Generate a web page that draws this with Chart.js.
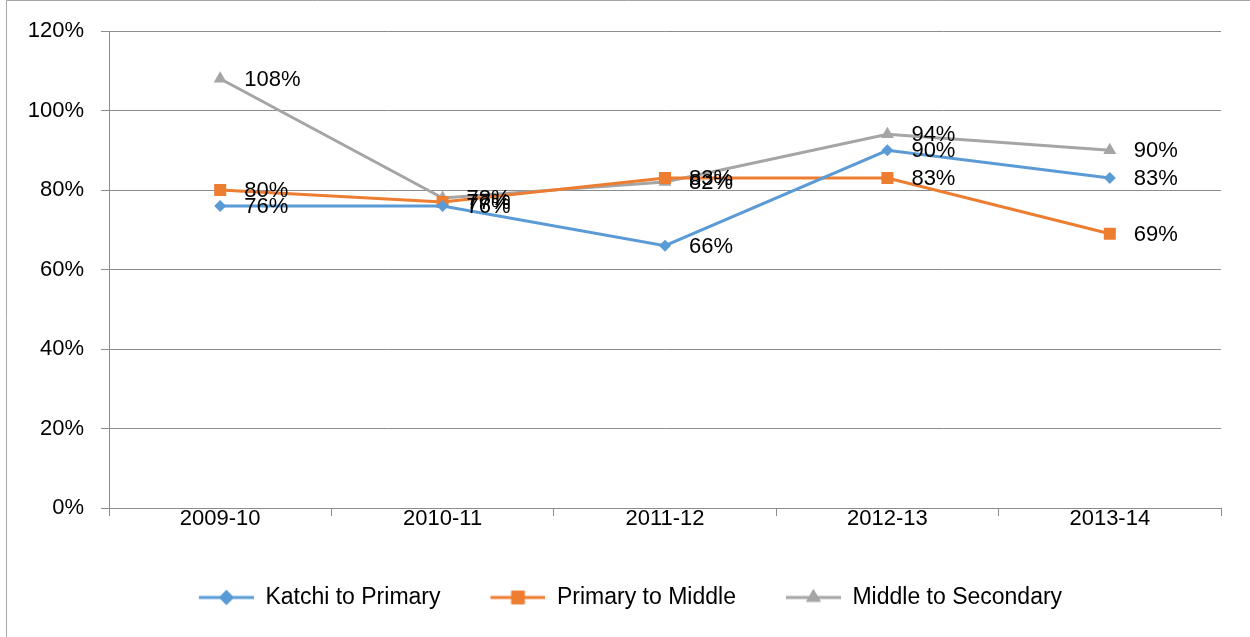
<!DOCTYPE html>
<html>
<head>
<meta charset="utf-8">
<script src="https://cdn.jsdelivr.net/npm/chart.js@4/dist/chart.umd.min.js"></script>
<style>
  html, body { margin: 0; padding: 0; background: #fff; }
  #wrap { width: 1250px; height: 637px; position: relative; }
</style>
</head>
<body>
<div id="wrap"><canvas id="chart" width="1250" height="637"></canvas></div>
<script>
// categories and series
var years = ['2009-10', '2010-11', '2011-12', '2012-13', '2013-14'];
var katchiToPrimary = [76, 76, 66, 90, 83];
var primaryToMiddle = [80, 77, 83, 83, 69];
var middleToSecondary = [108, 78, 82, 94, 90];
var seriesNames = ['Katchi to Primary', 'Primary to Middle', 'Middle to Secondary'];
var seriesColors = ['#5B9BD5', '#ED7D31', '#A5A5A5'];
var markerStyles = ['rectRot', 'rect', 'triangle'];
var markerSizes = [6, 8.5, 7.5];
var legendMarkerSizes = [7.5, 9.5, 8.5];

var FONT = '"Liberation Sans", Arial, sans-serif';

// little line+marker image for the legend (blank space on the left = gap between items)
function legendSwatch(i) {
  var c = document.createElement('canvas');
  c.width = 95; c.height = 22;
  var g = c.getContext('2d');
  g.strokeStyle = seriesColors[i];
  g.fillStyle = seriesColors[i];
  g.lineWidth = 3;
  g.beginPath(); g.moveTo(40, 11); g.lineTo(95, 11); g.stroke();
  Chart.helpers.drawPoint(g, { pointStyle: markerStyles[i], radius: legendMarkerSizes[i], rotation: 0, borderWidth: 0 }, 67.5, 11);
  g.fill();
  return c;
}

// border of the chart box
var frame = {
  id: 'frame',
  beforeDraw: function(chart) {
    var ctx = chart.ctx;
    ctx.save();
    ctx.strokeStyle = '#a6a6a6';
    ctx.lineWidth = 1;
    ctx.beginPath();
    ctx.moveTo(6.5, 637); ctx.lineTo(6.5, 0.5); ctx.lineTo(1250, 0.5);
    ctx.stroke();
    ctx.restore();
  }
};

// value labels to the right of each point
var valueLabels = {
  id: 'valueLabels',
  afterDatasetsDraw: function(chart) {
    var ctx = chart.ctx;
    ctx.save();
    ctx.font = '22px ' + FONT;
    ctx.fillStyle = '#000';
    ctx.textAlign = 'left';
    ctx.textBaseline = 'middle';
    chart.data.datasets.forEach(function(ds, di) {
      chart.getDatasetMeta(di).data.forEach(function(pt, i) {
        ctx.fillText(ds.data[i] + '%', pt.x + 24, pt.y + 1);
      });
    });
    ctx.restore();
  }
};

var allSeries = [katchiToPrimary, primaryToMiddle, middleToSecondary];
var datasets = allSeries.map(function(vals, i) {
  return {
    label: seriesNames[i],
    data: vals,
    borderColor: seriesColors[i],
    backgroundColor: seriesColors[i],
    borderWidth: 3,
    tension: 0,
    pointStyle: markerStyles[i],
    pointRadius: markerSizes[i],
    pointHoverRadius: markerSizes[i],
    pointBorderWidth: 0,
    pointBackgroundColor: seriesColors[i]
  };
});

new Chart(document.getElementById('chart').getContext('2d'), {
  type: 'line',
  data: { labels: years, datasets: datasets },
  options: {
    responsive: false,
    animation: false,
    layout: { padding: { top: 31, right: 29, left: 0, bottom: 18 } },
    scales: {
      x: {
        offset: true,
        grid: { offset: true, drawOnChartArea: false, drawTicks: true, tickLength: 8, color: '#8c8c8c' },
        border: { display: true, color: '#8c8c8c', width: 1 },
        ticks: { color: '#000', font: { family: FONT, size: 22 }, padding: -10, maxRotation: 0 },
        afterFit: function(s) { s.height = 68; }
      },
      y: {
        min: 0, max: 120,
        ticks: { stepSize: 20, color: '#000', font: { family: FONT, size: 22 }, padding: 17,
          callback: function(v) { return v + '%'; } },
        grid: { color: '#8c8c8c', tickLength: 8 },
        border: { display: true, color: '#8c8c8c', width: 1 },
        afterFit: function(s) { s.width = 109; }
      }
    },
    plugins: {
      tooltip: { enabled: false },
      legend: {
        position: 'bottom',
        labels: {
          usePointStyle: true,
          pointStyleWidth: 95,
          padding: 10,
          color: '#000',
          font: { family: FONT, size: 23 },
          generateLabels: function(chart) {
            return chart.data.datasets.map(function(ds, i) {
              return { text: ds.label, pointStyle: legendSwatch(i), fillStyle: seriesColors[i],
                strokeStyle: seriesColors[i], lineWidth: 0, datasetIndex: i, hidden: false, fontColor: '#000' };
            });
          }
        }
      }
    }
  },
  plugins: [frame, valueLabels]
});
</script>
</body>
</html>
